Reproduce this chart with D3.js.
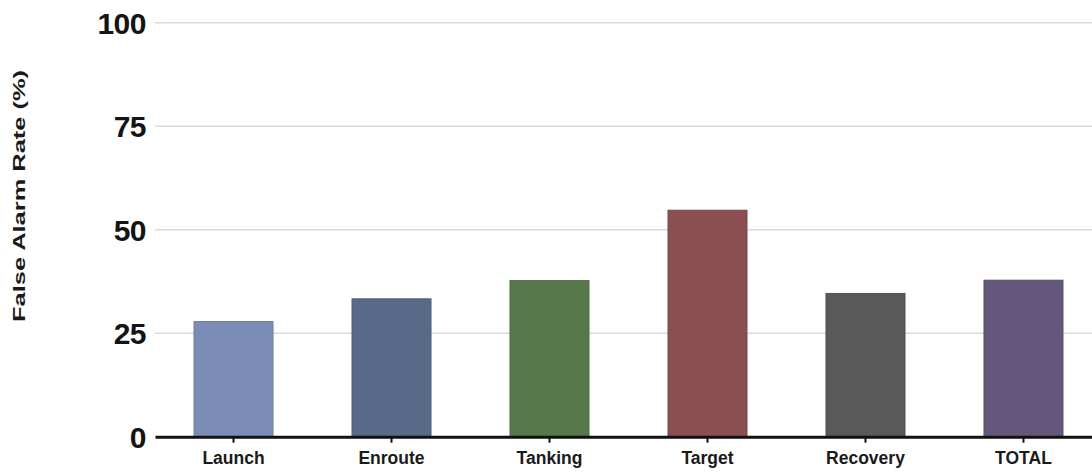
<!DOCTYPE html>
<html>
<head>
<meta charset="utf-8">
<script src="https://cdn.jsdelivr.net/npm/d3@7"></script>
<style>
  html, body { margin: 0; padding: 0; background: #fff; }
  svg { display: block; font-family: "Liberation Sans", Arial, sans-serif; }
</style>
</head>
<body>
<svg id="chart" width="1092" height="472"></svg>
<script>
// Phases of the mission and their false alarm rates (%)
const categories = ["Launch", "Enroute", "Tanking", "Target", "Recovery", "TOTAL"];
const rates = [27.8, 33.3, 37.7, 54.7, 34.6, 37.8];
const barColors = ["#7b8db6", "#586a88", "#56784b", "#8b4f52", "#595959", "#64577b"];
const yTicks = [0, 25, 50, 75, 100];
const yTitle = "False Alarm Rate (%)";

const svg = d3.select("#chart");
const W = 1092;
const plotLeft = 155;

const x = d3.scaleBand()
  .domain(categories)
  .range([plotLeft, 1102])
  .paddingInner(0.5)
  .paddingOuter(0.247);

const y = d3.scaleLinear()
  .domain([0, 100])
  .range([436.7, 22.7]);

// horizontal grid lines
svg.append("g")
  .selectAll("line")
  .data(yTicks.filter(t => t > 0))
  .join("line")
  .attr("x1", plotLeft)
  .attr("x2", W)
  .attr("y1", d => y(d))
  .attr("y2", d => y(d))
  .attr("stroke", "#d9dadc")
  .attr("stroke-width", 1.5);

// bars
svg.append("g")
  .selectAll("rect")
  .data(categories.map((c, i) => ({ c, v: rates[i], col: barColors[i] })))
  .join("rect")
  .attr("x", d => x(d.c))
  .attr("width", x.bandwidth())
  .attr("y", d => y(d.v))
  .attr("height", d => y(0) - y(d.v))
  .attr("fill", d => d.col)
  .attr("stroke", d => d3.color(d.col).darker(0.35))
  .attr("stroke-width", 1);

// y tick labels
svg.append("g")
  .selectAll("text")
  .data(yTicks)
  .join("text")
  .attr("x", 146)
  .attr("y", d => y(d))
  .attr("dy", "0.36em")
  .attr("text-anchor", "end")
  .attr("font-size", 30)
  .attr("font-weight", "bold")
  .attr("letter-spacing", -0.5)
  .attr("fill", "#141414")
  .text(d => d);

// x axis with category labels
const xAxis = svg.append("g")
  .attr("transform", `translate(0,${y(0)})`)
  .call(d3.axisBottom(x).tickSize(6).tickSizeOuter(0).tickPadding(9));

xAxis.select(".domain")
  .attr("stroke", "#111")
  .attr("stroke-width", 3);
xAxis.selectAll(".tick line")
  .attr("stroke", "#111")
  .attr("stroke-width", 2);
xAxis.selectAll(".tick text")
  .attr("font-size", 17.5)
  .attr("font-weight", "bold")
  .attr("font-family", "\"Liberation Sans\", Arial, sans-serif")
  .attr("fill", "#1a1a1a");

// y axis title
svg.append("text")
  .attr("transform", "translate(25,196) rotate(-90)")
  .attr("text-anchor", "middle")
  .attr("font-size", 17)
  .attr("font-weight", "bold")
  .attr("fill", "#1a1a1a")
  .attr("textLength", 252)
  .attr("lengthAdjust", "spacingAndGlyphs")
  .text(yTitle);
</script>
</body>
</html>
